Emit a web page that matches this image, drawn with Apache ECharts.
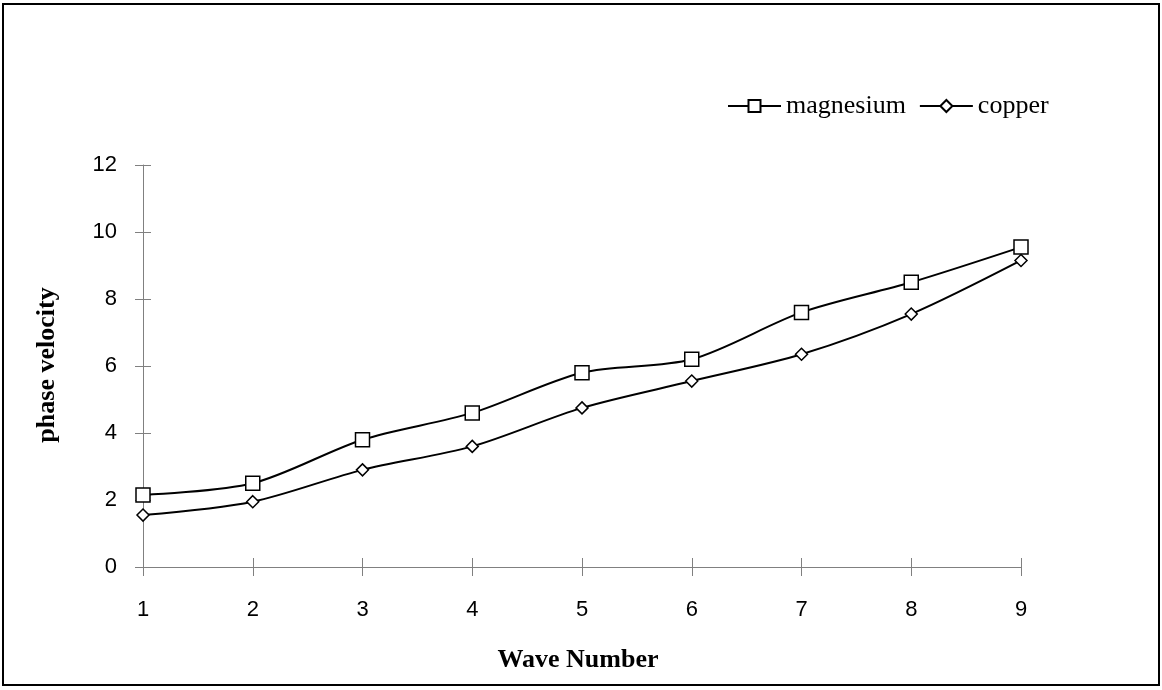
<!DOCTYPE html>
<html>
<head>
<meta charset="utf-8">
<script src="https://cdn.jsdelivr.net/npm/echarts@6/dist/echarts.min.js"></script>
<style>
  html, body { margin: 0; padding: 0; background: #fff; }
  #chart { width: 1162px; height: 690px; }
</style>
</head>
<body>
<div id="chart"></div>
<script>
    // 数据
    var waveNumbers = ['1', '2', '3', '4', '5', '6', '7', '8', '9'];
    var magnesium = [2.15, 2.5, 3.8, 4.6, 5.8, 6.2, 7.6, 8.5, 9.55];
    var copper = [1.55, 1.95, 2.9, 3.6, 4.75, 5.55, 6.35, 7.55, 9.15];

    var chart = echarts.init(document.getElementById('chart'));

    var axisGrey = '#808080';
    var serif = '"Liberation Serif", "Times New Roman", serif';
    var sans = '"Liberation Sans", Arial, sans-serif';

    var option = {
        animation: false,
        backgroundColor: '#fff',
        grid: { left: 143, right: 141, top: 165, bottom: 123 },
        graphic: [{
            type: 'rect',
            shape: { x: 3, y: 4, width: 1156, height: 681 },
            style: { fill: 'none', stroke: '#000', lineWidth: 2 }
        }, {
            type: 'text',
            x: 578,
            y: 660,
            style: {
                text: 'Wave Number', font: 'bold 26px ' + serif, fill: '#000',
                align: 'center', verticalAlign: 'middle'
            }
        }, {
            type: 'text',
            x: 47,
            y: 365,
            rotation: Math.PI / 2,
            style: {
                text: 'phase velocity', font: 'bold 26px ' + serif, fill: '#000',
                align: 'center', verticalAlign: 'middle'
            }
        }],
        legend: {
            top: 88,
            left: 722,
            itemWidth: 53,
            itemHeight: 15,
            itemGap: 13,
            textStyle: { fontFamily: serif, fontSize: 26, color: '#000' },
            data: ['magnesium', 'copper']
        },
        xAxis: [{
            type: 'category',
            data: waveNumbers,
            boundaryGap: false,
            axisLine: { lineStyle: { color: axisGrey, width: 1 } },
            axisTick: { length: 9, lineStyle: { color: axisGrey } },
            axisLabel: { fontFamily: sans, fontSize: 22, color: '#000', margin: 32 },
            splitLine: { show: false }
        }, {
            type: 'category',
            data: waveNumbers,
            boundaryGap: false,
            position: 'bottom',
            axisLine: { show: false },
            axisTick: { inside: true, length: 9, lineStyle: { color: axisGrey } },
            axisLabel: { show: false }
        }],
        yAxis: [{
            type: 'value',
            min: 0,
            max: 12,
            interval: 2,
            axisLine: { show: true, lineStyle: { color: axisGrey, width: 1 } },
            axisTick: { show: true, length: 8, lineStyle: { color: axisGrey } },
            axisLabel: { fontFamily: sans, fontSize: 22, color: '#000', margin: 26 },
            splitLine: { show: false }
        }, {
            type: 'value',
            min: 0,
            max: 12,
            interval: 2,
            position: 'left',
            axisLine: { show: false },
            axisTick: { show: true, inside: true, length: 8, lineStyle: { color: axisGrey } },
            axisLabel: { show: false },
            splitLine: { show: false }
        }],
        series: [{
            name: 'magnesium',
            type: 'line',
            data: magnesium,
            smooth: 0.3,
            symbol: 'rect',
            symbolSize: 14,
            lineStyle: { color: '#000', width: 2 },
            itemStyle: { color: '#fff', borderColor: '#000', borderWidth: 1.5 }
        }, {
            name: 'copper',
            type: 'line',
            data: copper,
            smooth: 0.3,
            symbol: 'diamond',
            symbolSize: 12,
            lineStyle: { color: '#000', width: 2 },
            itemStyle: { color: '#fff', borderColor: '#000', borderWidth: 1.5 }
        }]
    };

    chart.setOption(option);
</script>
</body>
</html>
